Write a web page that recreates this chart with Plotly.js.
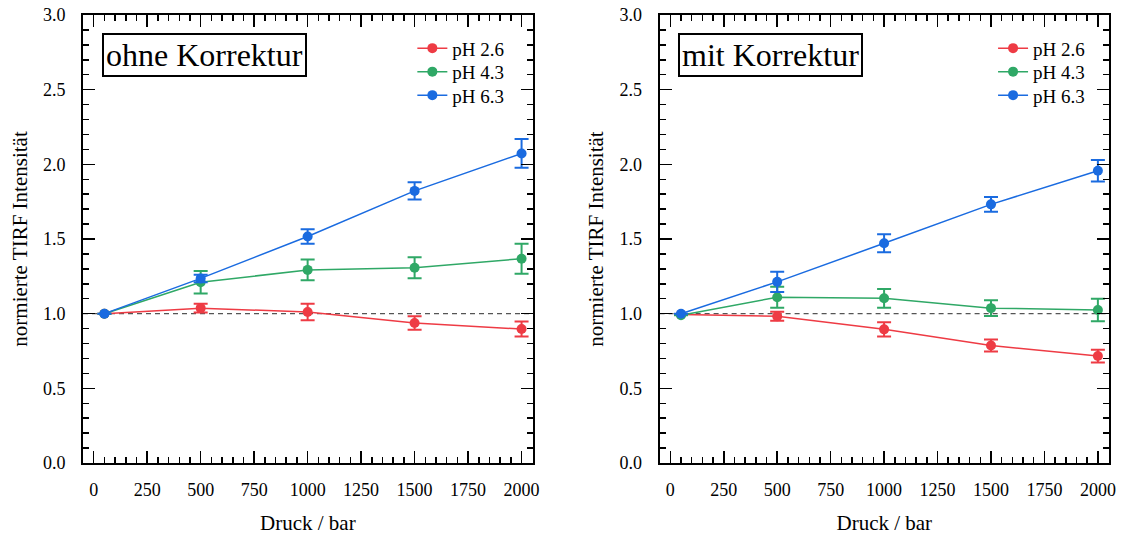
<!DOCTYPE html>
<html>
<head>
<meta charset="utf-8">
<script src="https://cdn.plot.ly/plotly-3.0.1.min.js"></script>
<style>html,body{margin:0;padding:0;background:#fff;}#chart{width:1124px;height:537px;}</style>
</head>
<body>
<div id="chart"></div>
<script>
// ---- data ----
var pressure = [50, 500, 1000, 1500, 2000];
var seriesNames = ['pH 2.6', 'pH 4.3', 'pH 6.3'];
var panelTitles = ['ohne Korrektur', 'mit Korrektur'];
var xTickLabels = ['0', '250', '500', '750', '1000', '1250', '1500', '1750', '2000'];
var xTickValues = [0, 250, 500, 750, 1000, 1250, 1500, 1750, 2000];

var ohne_pH26 = [1.0, 1.037, 1.011, 0.938, 0.897];
var ohne_pH26_err = [0, 0.03, 0.055, 0.045, 0.05];
var ohne_pH43 = [1.0, 1.21, 1.293, 1.307, 1.368];
var ohne_pH43_err = [0, 0.075, 0.07, 0.07, 0.10];
var ohne_pH63 = [1.0, 1.236, 1.517, 1.822, 2.073];
var ohne_pH63_err = [0, 0.025, 0.048, 0.058, 0.096];

var mit_pH26 = [0.995, 0.982, 0.895, 0.787, 0.716];
var mit_pH26_err = [0, 0.03, 0.048, 0.04, 0.043];
var mit_pH43 = [0.99, 1.11, 1.103, 1.037, 1.025];
var mit_pH43_err = [0, 0.07, 0.063, 0.053, 0.075];
var mit_pH63 = [1.0, 1.213, 1.471, 1.732, 1.957];
var mit_pH63_err = [0, 0.068, 0.06, 0.05, 0.072];

var referenceLevel = 1.0;

// ---- styles ----
var colors = ['#EE3B44', '#2FA866', '#1A6BE0'];
var FONT = 'Times New Roman, Liberation Serif, DejaVu Serif, serif';

function mk(y, err, i, xa, ya, leg) {
  return {
    type: 'scatter', mode: 'lines+markers',
    x: pressure, y: y, name: seriesNames[i],
    xaxis: xa, yaxis: ya, legend: leg,
    line: {color: colors[i], width: 1.5},
    marker: {color: colors[i], size: 10},
    error_y: {type: 'data', array: err, visible: true, color: colors[i], thickness: 2, width: 7}
  };
}

var data = [
  mk(ohne_pH26, ohne_pH26_err, 0, 'x', 'y', 'legend'),
  mk(ohne_pH43, ohne_pH43_err, 1, 'x', 'y', 'legend2'),
  mk(ohne_pH63, ohne_pH63_err, 2, 'x', 'y', 'legend3'),
  mk(mit_pH26, mit_pH26_err, 0, 'x2', 'y2', 'legend4'),
  mk(mit_pH43, mit_pH43_err, 1, 'x2', 'y2', 'legend5'),
  mk(mit_pH63, mit_pH63_err, 2, 'x2', 'y2', 'legend6')
];

function xAxis(domain, anchor) {
  return {
    domain: domain, anchor: anchor, range: [-50, 2052],
    tickmode: 'array', tickvals: xTickValues, ticktext: xTickLabels,
    ticks: 'inside', ticklen: 12, tickwidth: 1.5, tickcolor: '#000',
    minor: {dtick: 50, tick0: 0, ticks: 'inside', ticklen: 6, tickwidth: 1.5, tickcolor: '#000', showgrid: false},
    showline: true, linewidth: 2, linecolor: '#000', mirror: 'allticks',
    showgrid: false, zeroline: false,
    tickfont: {family: FONT, size: 18, color: '#000'},
    ticklabelstandoff: 9,
    title: {text: 'Druck / bar', font: {family: FONT, size: 21, color: '#000'}, standoff: 17}
  };
}
function yAxis(anchor) {
  return {
    domain: [0, 1], anchor: anchor, range: [0, 3],
    tick0: 0, dtick: 0.5, tickformat: '.1f',
    ticks: 'inside', ticklen: 12, tickwidth: 1.5, tickcolor: '#000',
    minor: {dtick: 0.1, ticks: 'inside', ticklen: 6, tickwidth: 1.5, tickcolor: '#000', showgrid: false},
    showline: true, linewidth: 2, linecolor: '#000', mirror: 'allticks',
    showgrid: false, zeroline: false,
    tickfont: {family: FONT, size: 18, color: '#000'},
    ticklabelstandoff: 12,
    title: {text: 'normierte TIRF Intensität', font: {family: FONT, size: 21, color: '#000'}, standoff: 10}
  };
}

function leg(x, y) {
  return {
    x: x, y: y,
    font: {family: FONT, size: 19, color: '#000'},
    bgcolor: 'rgba(0,0,0,0)', borderwidth: 0,
    xanchor: 'left', yanchor: 'middle', tracegroupgap: 0
  };
}
// legend row centres (paper fractions of plot area)
var rowY = [(463 - 48.3) / 448, (463 - 71.8) / 448, (463 - 95.3) / 448];
var legXL = 0.321, legXR = 0.887;

var layout = {
  width: 1124, height: 537,
  margin: {l: 83, r: 15, t: 15, b: 74},
  paper_bgcolor: '#fff', plot_bgcolor: '#fff',
  showlegend: true,
  xaxis: xAxis([0, 0.4383], 'y'),
  yaxis: yAxis('x'),
  xaxis2: xAxis([0.562, 1.0], 'y2'),
  yaxis2: yAxis('x2'),
  legend: leg(legXL, rowY[0]),
  legend2: leg(legXL, rowY[1]),
  legend3: leg(legXL, rowY[2]),
  legend4: leg(legXR, rowY[0]),
  legend5: leg(legXR, rowY[1]),
  legend6: leg(legXR, rowY[2]),
  shapes: [
    {type: 'line', xref: 'x domain', yref: 'y', x0: 0, x1: 1, y0: referenceLevel, y1: referenceLevel,
     line: {color: '#555', width: 1.2, dash: '5px,4px'}, layer: 'below'},
    {type: 'line', xref: 'x2 domain', yref: 'y2', x0: 0, x1: 1, y0: referenceLevel, y1: referenceLevel,
     line: {color: '#555', width: 1.2, dash: '5px,4px'}, layer: 'below'}
  ],
  annotations: [
    {xref: 'x domain', yref: 'y domain', x: 0.042, y: 0.96, xanchor: 'left', yanchor: 'top',
     text: panelTitles[0], showarrow: false, font: {family: FONT, size: 32, color: '#000'},
     bordercolor: '#000', borderwidth: 2, borderpad: 2, bgcolor: '#fff'},
    {xref: 'x2 domain', yref: 'y2 domain', x: 0.040, y: 0.96, xanchor: 'left', yanchor: 'top',
     text: panelTitles[1], showarrow: false, font: {family: FONT, size: 32, color: '#000'},
     bordercolor: '#000', borderwidth: 2, borderpad: 2, bgcolor: '#fff'}
  ]
};

Plotly.newPlot('chart', data, layout, {displayModeBar: false, staticPlot: true});
</script>
</body>
</html>
